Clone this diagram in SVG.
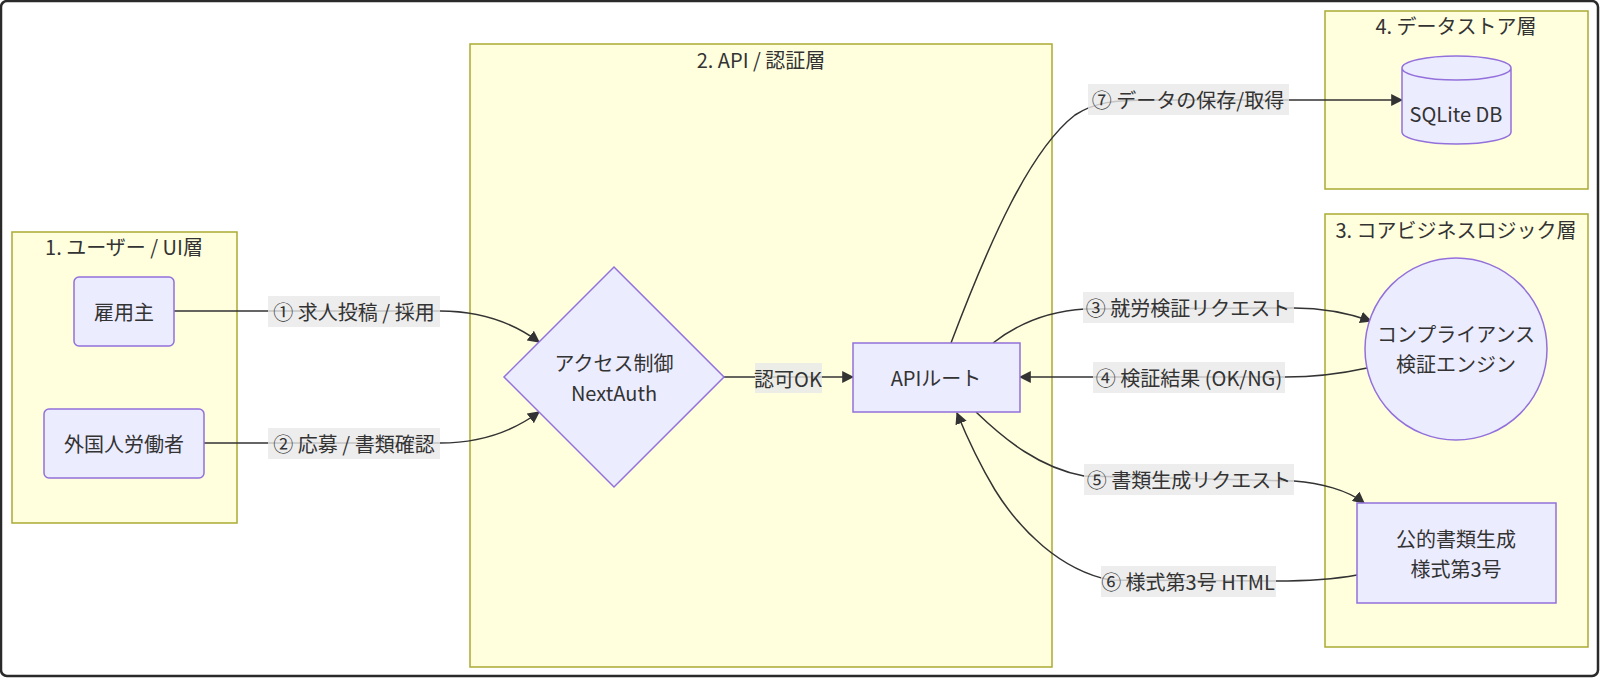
<svg xmlns="http://www.w3.org/2000/svg" width="1600" height="678" viewBox="0 0 1600 678">
<style>
text{font-family:"Noto Sans CJK JP","Noto Sans",sans-serif;font-size:20px;fill:#333;text-anchor:middle;dominant-baseline:central}
.cluster{fill:#ffffde;stroke:#aaaa33;stroke-width:1.5}
.node{fill:#ececff;stroke:#9370db;stroke-width:1.5}
.edge{fill:none;stroke:#333;stroke-width:1.5}
.lbl{fill:#e8e8e8;fill-opacity:0.8}
</style>
<defs>
<marker id="arr" viewBox="0 0 10 10" refX="9" refY="5" markerUnits="userSpaceOnUse" markerWidth="12" markerHeight="12" orient="auto">
<path d="M0,0 L10,5 L0,10 z" fill="#333"/>
</marker>
</defs>
<rect x="0" y="0" width="1600" height="678" fill="#fff"/>
<rect x="1" y="1" width="1597" height="675" rx="6" fill="none" stroke="#2a2a2a" stroke-width="2.5"/>

<g id="cluster-ui">
<rect class="cluster" x="12" y="232" width="225" height="291"/>
<text x="124" y="246">1. ユーザー / UI層</text>
</g>
<g id="cluster-api">
<rect class="cluster" x="470" y="44" width="582" height="623"/>
<text x="761" y="59">2. API / 認証層</text>
</g>
<g id="cluster-logic">
<rect class="cluster" x="1325" y="214" width="263" height="433"/>
<text x="1456" y="229">3. コアビジネスロジック層</text>
</g>
<g id="cluster-data">
<rect class="cluster" x="1325" y="11" width="263" height="178"/>
<text x="1456" y="25">4. データストア層</text>
</g>

<g id="connectors">
<path class="edge" d="M174,311 L440,311 C480,311 512,322 539,342" marker-end="url(#arr)"/>
<path class="edge" d="M204,443 L440,443 C480,443 512,432 539,412" marker-end="url(#arr)"/>
<path class="edge" d="M724,377 L853,377" marker-end="url(#arr)"/>
<path class="edge" d="M951,343 C990,240 1030,150 1075,115 C1095,102 1115,100 1150,100 L1402,100" marker-end="url(#arr)"/>
<path class="edge" d="M993,343 C1020,322 1050,311 1085,309 L1294,308 C1320,308 1345,312 1371,321" marker-end="url(#arr)"/>
<path class="edge" d="M1367,368 C1340,374 1310,377 1285,377 L1020,377" marker-end="url(#arr)"/>
<path class="edge" d="M976,412 C1005,440 1040,468 1084,476 L1294,481 C1320,483 1348,490 1364,503" marker-end="url(#arr)"/>
<path class="edge" d="M1357,575 C1330,580 1300,581 1276,581 L1110,580 C1060,570 1020,530 995,490 C980,465 966,435 957,413" marker-end="url(#arr)"/>
<g id="edge-labels">
<rect class="lbl" x="268" y="296" width="172" height="31"/>
<text x="354" y="311">① 求人投稿 / 採用</text>
<rect class="lbl" x="268" y="428" width="172" height="31"/>
<text x="354" y="443">② 応募 / 書類確認</text>
<rect class="lbl" x="755" y="363" width="67" height="30"/>
<text x="788" y="378">認可OK</text>
<rect class="lbl" x="1088" y="84" width="201" height="31"/>
<text x="1188" y="99">⑦ データの保存/取得</text>
<rect class="lbl" x="1083" y="292" width="211" height="31"/>
<text x="1188" y="307">③ 就労検証リクエスト</text>
<rect class="lbl" x="1093" y="362" width="192" height="31"/>
<text x="1189" y="377">④ 検証結果 (OK/NG)</text>
<rect class="lbl" x="1084" y="464" width="210" height="31"/>
<text x="1189" y="479">⑤ 書類生成リクエスト</text>
<rect class="lbl" x="1101" y="566" width="175" height="31"/>
<text x="1188" y="581">⑥ 様式第3号 HTML</text>
</g>
</g>

<g id="employer">
<rect class="node" x="74" y="277" width="100" height="69" rx="5"/>
<text x="124" y="311">雇用主</text>
</g>
<g id="worker">
<rect class="node" x="44" y="409" width="160" height="69" rx="5"/>
<text x="124" y="443">外国人労働者</text>
</g>
<g id="auth">
<polygon class="node" points="614,267 724,377 614,487 504,377"/>
<text x="614" y="362">アクセス制御</text>
<text x="614" y="392">NextAuth</text>
</g>
<g id="api">
<rect class="node" x="853" y="343" width="167" height="69"/>
<text x="936" y="377">APIルート</text>
</g>
<g id="db">
<path class="node" d="M1402,68 a54.5,12 0 0 0 109,0 a54.5,12 0 0 0 -109,0 l0,64 a54.5,12 0 0 0 109,0 l0,-64"/>
<text x="1456" y="113">SQLite DB</text>
</g>
<g id="engine">
<circle class="node" cx="1456" cy="349" r="91"/>
<text x="1456" y="333">コンプライアンス</text>
<text x="1456" y="363">検証エンジン</text>
</g>
<g id="docgen">
<rect class="node" x="1357" y="503" width="199" height="100"/>
<text x="1456" y="538">公的書類生成</text>
<text x="1456" y="568">様式第3号</text>
</g>
</svg>
